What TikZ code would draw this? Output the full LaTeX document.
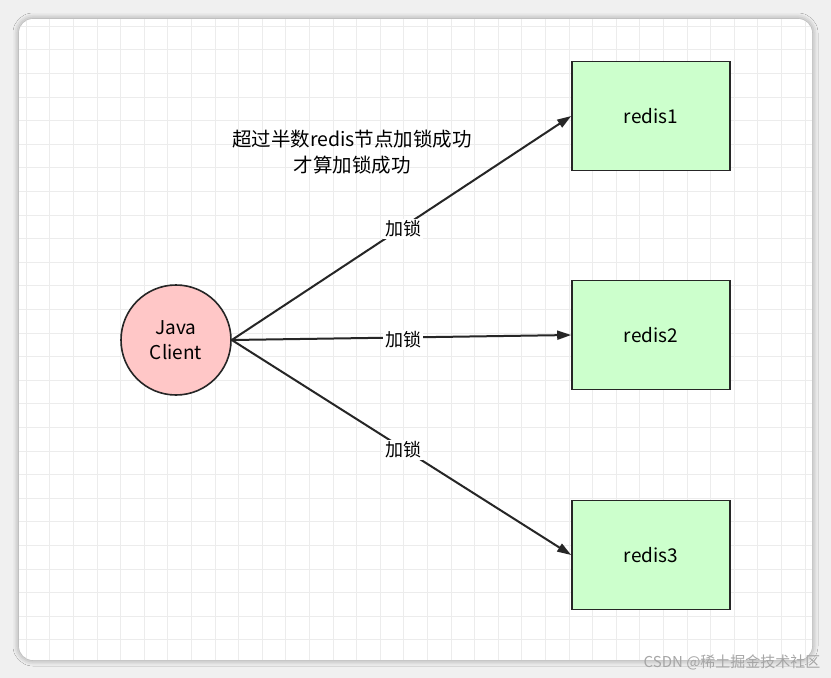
\documentclass[tikz,border=0pt]{standalone}
\usepackage{fontspec}
\setmainfont{Noto Sans CJK SC}
\usetikzlibrary{arrows.meta,shadows.blur}
\begin{document}
\begin{tikzpicture}[x=1pt,y=-1pt,
  box/.style={draw=black!85,line width=1.6pt,fill=green!20,minimum width=158pt,minimum height=109pt,font=\fontsize{19}{22}\selectfont},
  lbl/.style={fill=white,inner sep=2pt,font=\fontsize{18}{22}\selectfont},
  arr/.style={draw=black!85,line width=2pt,-{Triangle[length=14pt,width=9pt]}}]
\useasboundingbox (0,0) rectangle (831,678);
\fill[gray!12] (0,0) rectangle (831,678);
\fill[white,blur shadow={shadow blur radius=6pt,shadow xshift=0pt,shadow yshift=0pt}] (19,19) [rounded corners=14pt] rectangle (812,660);
\begin{scope}
\clip[rounded corners=14pt] (19,19) rectangle (812,660);
\foreach \i in {0,...,34} {\draw[gray!15,line width=0.6pt] (26+23.6*\i,19) -- (26+23.6*\i,660);}
\foreach \i in {0,...,28} {\draw[gray!15,line width=0.6pt] (19,26+23.6*\i) -- (812,26+23.6*\i);}
\end{scope}
\node[circle,draw=black!85,line width=1.6pt,fill=red!22,minimum size=110pt,align=center,font=\fontsize{19}{25}\selectfont] (c) at (176,340) {Java\\Client};
\node[box] (r1) at (651,116) {redis1};
\node[box] (r2) at (651,335) {redis2};
\node[box] (r3) at (651,555) {redis3};
\draw[arr] (c.east) -- (r1.west);
\draw[arr] (c.east) -- (r2.west);
\draw[arr] (c.east) -- (r3.west);
\node[lbl] at (403,229) {加锁};
\node[lbl] at (403,340) {加锁};
\node[lbl] at (403,450) {加锁};
\node[align=center,font=\fontsize{19.5}{26}\selectfont] (t) at (352,152) {超过半数redis节点加锁成功\\才算加锁成功};
\node[text=gray!70,font=\fontsize{15}{17}\selectfont,anchor=east] (w) at (824,662) {CSDN @稀土掘金技术社区};
\end{tikzpicture}
\end{document}
